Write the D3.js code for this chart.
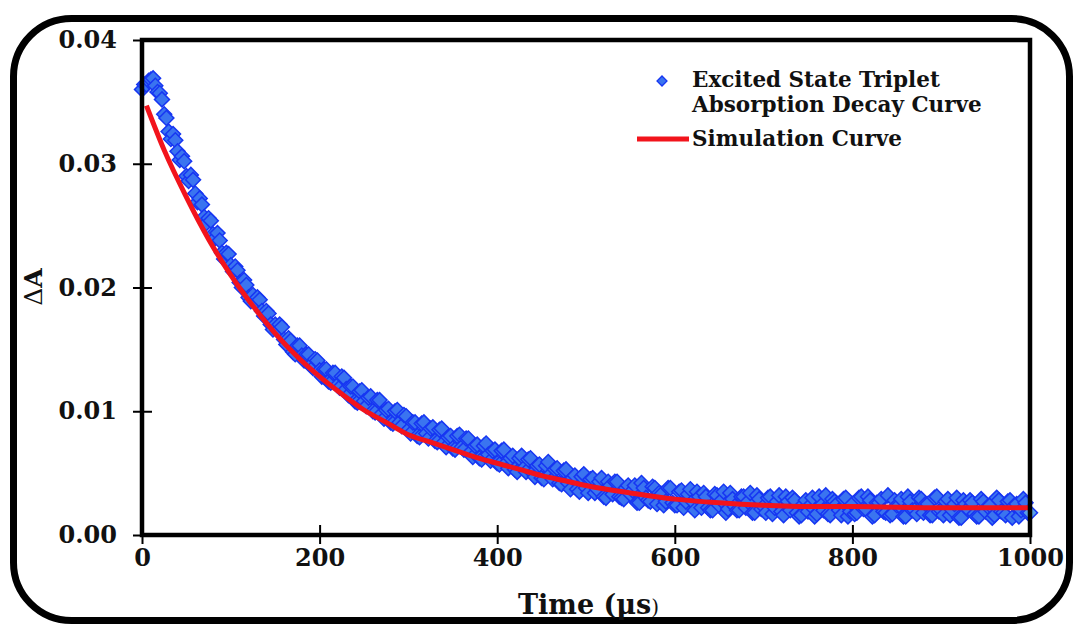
<html>
<head>
<style>
  body { margin: 0; background: #fff; }
  text { font-family: "DejaVu Serif", serif; font-weight: bold; fill: #111; }
</style>
</head>
<body>
<svg width="1073" height="625" id="chart"></svg>

<script src="https://cdnjs.cloudflare.com/ajax/libs/d3/7.8.5/d3.min.js"></script>
<script>
// measured absorbance, points at t = 0, 5, 10 ... 1000 us
var timeStep = 5;
var decayValues = [
  0.0360, 0.0364, 0.0368, 0.0363, 0.0357, 0.0340, 0.0326, 0.0324, 0.0310, 0.0306,
  0.0290, 0.0291, 0.0276, 0.0272, 0.0257, 0.0256, 0.0243, 0.0244, 0.0228, 0.0228,
  0.0218, 0.0217, 0.0204, 0.0206, 0.0192, 0.0194, 0.0192, 0.0181, 0.0181, 0.0170,
  0.0170, 0.0170, 0.0158, 0.0159, 0.0148, 0.0153, 0.0145, 0.0146, 0.0137, 0.0142,
  0.0133, 0.0134, 0.0124, 0.0131, 0.0121, 0.0128, 0.0118, 0.0120, 0.0108, 0.0116,
  0.0108, 0.0111, 0.0100, 0.0109, 0.0098, 0.0101, 0.0091, 0.0100, 0.0091, 0.0097,
  0.0085, 0.0091, 0.0080, 0.0090, 0.0082, 0.0086, 0.0076, 0.0085, 0.0075, 0.0079,
  0.0070, 0.0080, 0.0071, 0.0078, 0.0067, 0.0072, 0.0062, 0.0072, 0.0065, 0.0068,
  0.0058, 0.0068, 0.0058, 0.0062, 0.0053, 0.0062, 0.0054, 0.0061, 0.0050, 0.0056,
  0.0046, 0.0056, 0.0049, 0.0053, 0.0042, 0.0052, 0.0042, 0.0046, 0.0037, 0.0047,
  0.0038, 0.0045, 0.0034, 0.0043, 0.0031, 0.0043, 0.0033, 0.0043, 0.0030, 0.0038,
  0.0033, 0.0040, 0.0026, 0.0038, 0.0028, 0.0039, 0.0025, 0.0033, 0.0027, 0.0038,
  0.0024, 0.0035, 0.0022, 0.0033, 0.0027, 0.0035, 0.0022, 0.0031, 0.0020, 0.0033,
  0.0024, 0.0035, 0.0021, 0.0029, 0.0020, 0.0031, 0.0022, 0.0034, 0.0018, 0.0029,
  0.0023, 0.0030, 0.0017, 0.0027, 0.0019, 0.0031, 0.0020, 0.0028, 0.0015, 0.0025,
  0.0019, 0.0030, 0.0017, 0.0024, 0.0032, 0.0016, 0.0027, 0.0020, 0.0029, 0.0015,
  0.0025, 0.0018, 0.0031, 0.0021, 0.0028, 0.0016, 0.0026, 0.0019, 0.0032, 0.0017,
  0.0024, 0.0029, 0.0015, 0.0027, 0.0020, 0.0030, 0.0018, 0.0025, 0.0016, 0.0031,
  0.0020, 0.0027, 0.0016, 0.0025, 0.0014, 0.0028, 0.0021, 0.0026, 0.0015, 0.0029,
  0.0019, 0.0024, 0.0016, 0.0028, 0.0018, 0.0027, 0.0014, 0.0025, 0.0020, 0.0026,
  0.0018
];
// the in-between samples, t = 2.5, 7.5 ... 997.5 us
var decayValuesMid = [
  0.0364, 0.0367, 0.0369, 0.0358, 0.0352, 0.0337, 0.0320, 0.0319, 0.0303, 0.0302,
  0.0286, 0.0287, 0.0269, 0.0267, 0.0252, 0.0254, 0.0240, 0.0238, 0.0223, 0.0227,
  0.0213, 0.0214, 0.0200, 0.0202, 0.0189, 0.0188, 0.0190, 0.0177, 0.0179, 0.0166,
  0.0165, 0.0168, 0.0154, 0.0157, 0.0146, 0.0153, 0.0141, 0.0146, 0.0135, 0.0141,
  0.0128, 0.0134, 0.0123, 0.0131, 0.0119, 0.0127, 0.0113, 0.0120, 0.0107, 0.0117,
  0.0104, 0.0112, 0.0099, 0.0109, 0.0094, 0.0102, 0.0090, 0.0101, 0.0088, 0.0096,
  0.0082, 0.0091, 0.0079, 0.0091, 0.0078, 0.0087, 0.0075, 0.0086, 0.0071, 0.0080,
  0.0069, 0.0081, 0.0069, 0.0078, 0.0063, 0.0073, 0.0061, 0.0074, 0.0060, 0.0069,
  0.0057, 0.0069, 0.0054, 0.0064, 0.0051, 0.0064, 0.0051, 0.0062, 0.0047, 0.0057,
  0.0045, 0.0059, 0.0045, 0.0054, 0.0041, 0.0053, 0.0037, 0.0048, 0.0035, 0.0049,
  0.0034, 0.0046, 0.0037, 0.0046, 0.0030, 0.0040, 0.0043, 0.0031, 0.0029, 0.0040,
  0.0036, 0.0026, 0.0042, 0.0030, 0.0027, 0.0038, 0.0034, 0.0024, 0.0038, 0.0026,
  0.0024, 0.0036, 0.0027, 0.0037, 0.0020, 0.0031, 0.0034, 0.0022, 0.0020, 0.0032,
  0.0028, 0.0018, 0.0034, 0.0023, 0.0020, 0.0031, 0.0027, 0.0018, 0.0032, 0.0021,
  0.0018, 0.0031, 0.0022, 0.0032, 0.0016, 0.0027, 0.0030, 0.0018, 0.0016, 0.0028,
  0.0024, 0.0015, 0.0031, 0.0020, 0.0017, 0.0029, 0.0025, 0.0016, 0.0030, 0.0019,
  0.0017, 0.0030, 0.0021, 0.0031, 0.0015, 0.0026, 0.0029, 0.0018, 0.0016, 0.0028,
  0.0024, 0.0015, 0.0031, 0.0020, 0.0017, 0.0029, 0.0025, 0.0016, 0.0030, 0.0019,
  0.0016, 0.0029, 0.0020, 0.0030, 0.0014, 0.0025, 0.0028, 0.0017, 0.0015, 0.0027,
  0.0023, 0.0014, 0.0030, 0.0019, 0.0016, 0.0028, 0.0024, 0.0015, 0.0029, 0.0018
];

// simulation (fit) curve
var simTimes  = [5, 25, 50, 75, 100, 125, 150, 175, 200, 225, 250, 275, 300, 325, 350,
                 375, 400, 425, 450, 475, 500, 550, 600, 650, 700, 750, 800, 900, 1000];
var simValues = [0.0347, 0.0311, 0.0273, 0.0239, 0.0210, 0.0185, 0.0163, 0.0144, 0.0128,
                 0.0114, 0.0101, 0.0091, 0.0081, 0.0075, 0.0069, 0.0063, 0.0058, 0.0053,
                 0.0048, 0.0044, 0.0040, 0.0034, 0.0029, 0.0026, 0.0024, 0.0023, 0.0023,
                 0.0022, 0.0022];

var xTicks = [0, 200, 400, 600, 800, 1000];
var yTicks = [0, 0.01, 0.02, 0.03, 0.04];

var svg = d3.select("#chart");

// rounded frame
svg.append("rect")
   .attr("x", 13.5).attr("y", 18.5)
   .attr("width", 1056).attr("height", 602)
   .attr("rx", 58).attr("ry", 58)
   .style("fill", "#fff")
   .style("stroke", "#000")
   .style("stroke-width", 7);

var plotL = 142, plotT = 40, plotR = 1030, plotB = 535;

var x = d3.scaleLinear().domain([0, 1000]).range([plotL, plotR]);
var y = d3.scaleLinear().domain([0, 0.04]).range([plotB, plotT]);

var points = decayValues.map(function(v, i) { return [i * timeStep, v]; })
   .concat(decayValuesMid.map(function(v, i) { return [i * timeStep + timeStep / 2, v]; }));
points.sort(function(a, b) { return a[0] - b[0]; });

// data diamonds
var diamond = d3.symbol().type(d3.symbolSquare).size(112);
svg.append("g").selectAll("path")
   .data(points)
  .enter().append("path")
   .attr("d", diamond)
   .attr("transform", function(d) {
       return "translate(" + x(d[0]) + "," + y(d[1]) + ") rotate(45)";
   })
   .style("fill", function(d, i) { return i == points.length - 1 ? "#5aa0e8" : "#3a74f0"; })
   .style("stroke", "#1736f2")
   .style("stroke-width", 1.5);

// simulation curve
var line = d3.line()
   .x(function(d, i) { return x(simTimes[i]); })
   .y(function(d) { return y(d); })
   .curve(d3.curveMonotoneX);
svg.append("path")
   .datum(simValues)
   .attr("d", line)
   .style("fill", "none")
   .style("stroke", "#f2141c")
   .style("stroke-width", 5);

// plot box
svg.append("rect")
   .attr("x", plotL).attr("y", plotT)
   .attr("width", plotR - plotL).attr("height", plotB - plotT)
   .style("fill", "none")
   .style("stroke", "#000")
   .style("stroke-width", 4.5);

// axes
var xAxis = svg.append("g")
   .attr("transform", "translate(0," + plotB + ")")
   .call(d3.axisBottom(x).tickValues(xTicks).tickSizeInner(-10).tickSizeOuter(0).tickPadding(-1)
         .tickFormat(d3.format("d")));
xAxis.selectAll(".tick line").attr("y1", 9);
xAxis.selectAll(".tick text").attr("dy", "1.35em");

var yAxis = svg.append("g")
   .attr("transform", "translate(" + plotL + ",0)")
   .call(d3.axisLeft(y).tickValues(yTicks).tickSizeInner(-10).tickSizeOuter(0)
         .tickFormat(d3.format(".2f")));
yAxis.selectAll(".tick line").attr("x1", -9);
yAxis.selectAll(".tick text").attr("x", -25);

[xAxis, yAxis].forEach(function(a) {
    a.select(".domain").remove();
    a.selectAll(".tick line").style("stroke", "#000").style("stroke-width", 2);
    a.selectAll(".tick text")
     .style("font-family", "DejaVu Serif, serif")
     .style("font-weight", "bold")
     .style("font-size", "24px")
     .style("fill", "#111");
});

// axis titles
var xt = svg.append("text")
   .attr("x", 518).attr("y", 614)
   .style("font-size", "27px");
xt.append("tspan").text("Time (");
xt.append("tspan").text("\u03bcs");
xt.append("tspan").style("font-size", "20px").style("font-weight", "normal").text(")");

var yt = svg.append("text")
   .attr("transform", "translate(42,287) rotate(-90)")
   .attr("text-anchor", "middle")
   .style("font-size", "25px");
yt.append("tspan").style("font-weight", "normal").text("\u0394");
yt.append("tspan").text("A");

// legend
var leg = svg.append("g");
leg.append("path")
   .attr("d", d3.symbol().type(d3.symbolSquare).size(50))
   .attr("transform", "translate(662,81) rotate(45)")
   .style("fill", "#3a74f0")
   .style("stroke", "#1736f2")
   .style("stroke-width", 1.3);
leg.append("line")
   .attr("x1", 637).attr("x2", 689).attr("y1", 139).attr("y2", 139)
   .style("stroke", "#f2141c").style("stroke-width", 5);
var legText = [["Excited State Triplet", 87], ["Absorption Decay Curve", 112], ["Simulation Curve", 146]];
leg.selectAll("text")
   .data(legText)
  .enter().append("text")
   .attr("x", 692)
   .attr("y", function(d) { return d[1]; })
   .style("font-size", "21.5px")
   .text(function(d) { return d[0]; });
</script>
</body>
</html>
